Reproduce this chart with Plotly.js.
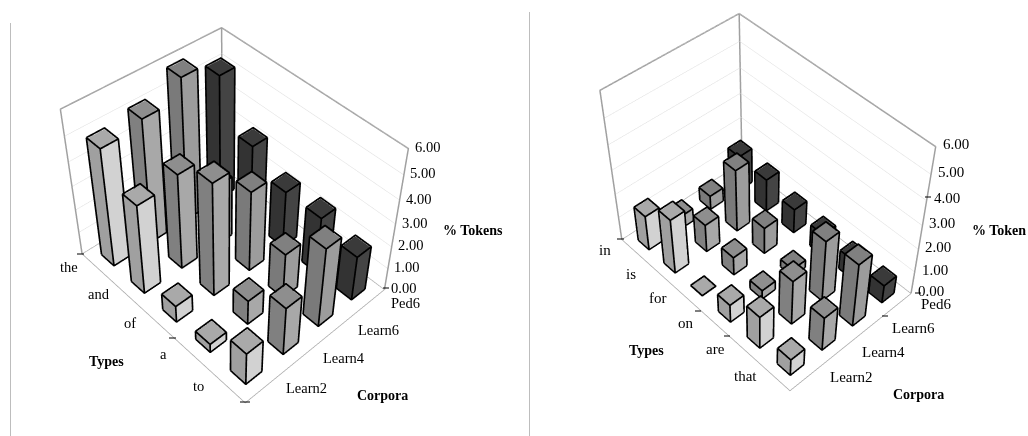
<!DOCTYPE html>
<html>
<head>
<meta charset="utf-8">
<script src="https://cdn.plot.ly/plotly-3.0.1.min.js"></script>
<style>
html,body{margin:0;padding:0;background:#fff;overflow:hidden;width:1028px;height:436px}
#chart{position:absolute;left:0;top:-246px;width:1028px;height:901px}
</style>
</head>
<body>
<div id="chart"></div>
<script>
// ---- data (percent of tokens) ----
const corpora = ['Learn2','Learn4','Learn6','Ped6'];
const zTicks = [0,1,2,3,4,5,6];
const typesA = ['the','and','of','a','to'];
const aLearn2 = [4.95,3.8,0.7,0.35,1.4];
const aLearn4 = [5.2,4.05,4.8,1.05,2.1];
const aLearn6 = [5.95,2.6,3.45,1.95,3.45];
const aPed6   = [5.25,3.35,2.45,2.45,1.95];
const typesB = ['in','is','for','on','are','that'];
const bLearn2 = [1.45,2.3,0.03,0.75,1.4,0.7];
const bLearn4 = [0.5,1.15,0.75,0.35,1.9,1.45];
const bLearn6 = [0.55,2.6,1.1,0.3,2.6,2.7];
const bPed6   = [1.45,1.35,1.0,0.9,0.8,0.75];
// [top, left side, right side] per corpus
const palette = [
  ['#a9a9a9','#a0a0a0','#d2d2d2'],
  ['#8e8e8e','#808080','#a8a8a8'],
  ['#808080','#7a7a7a','#9c9c9c'],
  ['#3a3a3a','#333333','#444444']
];
const W=1028,H=901,OFF=246;
const px=x=>x/W, py=y=>(H-OFF-y)/H;
const BAR=0.4, EPS=0.012;
const FONT='"Liberation Serif","Times New Roman",serif';

function meshFor(vals,row,cols,scene){
  const x=[],y=[],z=[],i=[],j=[],k=[],fc=[];
  vals.forEach((v,c)=>{
    const x0=c+(1-BAR)/2,x1=c+(1+BAR)/2,y0=row+(1-BAR)/2,y1=row+(1+BAR)/2,n=x.length;
    [[x0,y0],[x1,y0],[x1,y1],[x0,y1]].forEach(p=>{x.push(p[0]);y.push(p[1]);z.push(0);});
    [[x0,y0],[x1,y0],[x1,y1],[x0,y1]].forEach(p=>{x.push(p[0]);y.push(p[1]);z.push(v);});
    const tri=(a,b,d,col)=>{i.push(n+a);j.push(n+b);k.push(n+d);fc.push(col);};
    tri(4,5,6,cols[0]);tri(4,6,7,cols[0]);
    tri(0,1,5,cols[1]);tri(0,5,4,cols[1]);
    tri(1,2,6,cols[2]);tri(1,6,5,cols[2]);
  });
  return {type:'mesh3d',scene,x,y,z,i,j,k,facecolor:fc,flatshading:true,hoverinfo:'skip',
    lighting:{ambient:1,diffuse:0,specular:0,fresnel:0,roughness:1},showscale:false};
}
function edgesFor(series,scene){
  const x=[],y=[],z=[];
  const seg=(pts)=>{pts.forEach(p=>{x.push(p[0]);y.push(p[1]);z.push(p[2]);});x.push(null);y.push(null);z.push(null);};
  series.forEach((vals,row)=>vals.forEach((v,c)=>{
    const x0=c+(1-BAR)/2-EPS,x1=c+(1+BAR)/2+EPS,y0=row+(1-BAR)/2-EPS,y1=row+(1+BAR)/2+EPS,t=v+0.03;
    seg([[x0,y0,t],[x1,y0,t],[x1,y1,t],[x0,y1,t],[x0,y0,t]]);
    if(v<0.1) return;
    seg([[x0,y0,0],[x0,y0,t]]);seg([[x1,y0,0],[x1,y0,t]]);seg([[x1,y1,0],[x1,y1,t]]);
    seg([[x0,y0,0],[x1,y0,0],[x1,y1,0]]);
  }));
  return {type:'scatter3d',mode:'lines',scene,x,y,z,line:{color:'#000',width:3.4},hoverinfo:'skip',showlegend:false,connectgaps:false};
}
function frameTraces(nx,ny,scene){
  const zt=zTicks[zTicks.length-1];
  const hx=[0,0,0,nx,nx,null,0,0],hy=[0,0,ny,ny,ny,null,ny,ny],hz=[0,zt,zt,zt,0,null,0,zt];
  const lx=[0,nx,nx,null,0,0,nx],ly=[0,0,ny,null,0,ny,ny],lz=[0,0,0,null,0,0,0];
  return [
    {type:'scatter3d',mode:'lines',scene,x:hx,y:hy,z:hz,line:{color:'#a0a0a0',width:3},hoverinfo:'skip',showlegend:false},
    {type:'scatter3d',mode:'lines',scene,x:lx,y:ly,z:lz,line:{color:'#a8a8a8',width:1.5},hoverinfo:'skip',showlegend:false}
  ];
}
function sceneLayout(nx,ny,dx,dy,aspect,camera,types,fs,s){
  const hidden={showgrid:false,showline:false,zeroline:false,showticklabels:false,ticks:'',title:{text:''},showbackground:false,showspikes:false,autorange:false};
  const ann=[];
  const f={family:FONT,size:fs,color:'#000'};
  types.forEach((t,i)=>ann.push({x:i+.5,y:0,z:0,text:t,showarrow:false,xshift:s.tx,yshift:s.ty,font:f}));
  corpora.forEach((t,i)=>ann.push({x:nx,y:i+.5,z:0,text:t,showarrow:false,xanchor:'left',xshift:s.cx,yshift:s.cy,font:f}));
  zTicks.forEach(v=>ann.push({x:nx,y:ny,z:v,text:v.toFixed(2),showarrow:false,xshift:s.zx,yshift:s.zy,font:f}));
  return {domain:{x:dx,y:dy},aspectmode:'manual',aspectratio:aspect,camera,dragmode:'orbit',
    xaxis:{...hidden,range:[0,nx]},yaxis:{...hidden,range:[0,ny]},
    zaxis:{...hidden,range:[zTicks[0],zTicks[zTicks.length-1]],dtick:1,showgrid:true,gridcolor:'#dcdcdc',gridwidth:1},
    annotations:ann};
}
const seriesA=[aLearn2,aLearn4,aLearn6,aPed6], seriesB=[bLearn2,bLearn4,bLearn6,bPed6];
const data=[];
seriesA.forEach((v,r)=>data.push(meshFor(v,r,palette[r],'scene')));
data.push(edgesFor(seriesA,'scene'),...frameTraces(typesA.length,corpora.length,'scene'));
seriesB.forEach((v,r)=>data.push(meshFor(v,r,palette[r],'scene2')));
data.push(edgesFor(seriesB,'scene2'),...frameTraces(typesB.length,corpora.length,'scene2'));

const camA={eye:{x:1.947,y:-1.795,z:2.674},center:{x:.489,y:-.109,z:.667},up:{x:-.498,y:.451,z:.741},projection:{type:'perspective'}};
const camB={eye:{x:2.012,y:-1.871,z:2.915},center:{x:.581,y:-.44,z:.704},up:{x:-.542,y:.5,z:.676},projection:{type:'perspective'}};

const titles=[['Types',106,361],['Corpora',382,395],['% Tokens',473,230],['Types',646,350],['Corpora',918,394],['% Token',999,230]];
const annotations=titles.map(t=>({xref:'paper',yref:'paper',x:px(t[1]),y:py(t[2]),xanchor:'center',yanchor:'middle',text:'<b>'+t[0]+'</b>',showarrow:false,font:{family:FONT,size:14,color:'#000'}}));
const vlines=[[10.5,23],[529.5,12]];
const dashes=[[77,254,84],[169,338,176],[240,402,250],[383,288,389],[617,239,624],[695,311,701],[724,336,730],[882,316,888],[915,293,921],[925,197,931]];
const shapes=[
  ...vlines.map(v=>({type:'line',xref:'paper',yref:'paper',x0:px(v[0]),x1:px(v[0]),y0:py(v[1]),y1:py(436),line:{color:'#bdbdbd',width:1}})),
  ...dashes.map(d=>({type:'line',xref:'paper',yref:'paper',x0:px(d[0]),x1:px(d[2]),y0:py(d[1]),y1:py(d[1]),line:{color:'#000',width:1}}))
];
const layout={width:W,height:H,autosize:false,margin:{l:0,r:0,t:0,b:0},paper_bgcolor:'#fff',showlegend:false,
  annotations,shapes,
  scene:sceneLayout(5,4,[40/W,588/W],[py(551.5),py(-245.5)],{x:1,y:.786,z:.786},camA,typesA,14.5,{tx:-28,ty:0,cx:20,cy:-1,zx:19,zy:1}),
  scene2:sceneLayout(6,4,[590/W,990/W],[py(654.5),py(-228.5)],{x:1,y:.664,z:.807},camB,typesB,15,{tx:-29,ty:0,cx:22,cy:0,zx:20,zy:2})
};
Plotly.newPlot('chart',data,layout,{displayModeBar:false,responsive:false});
</script>
</body>
</html>
